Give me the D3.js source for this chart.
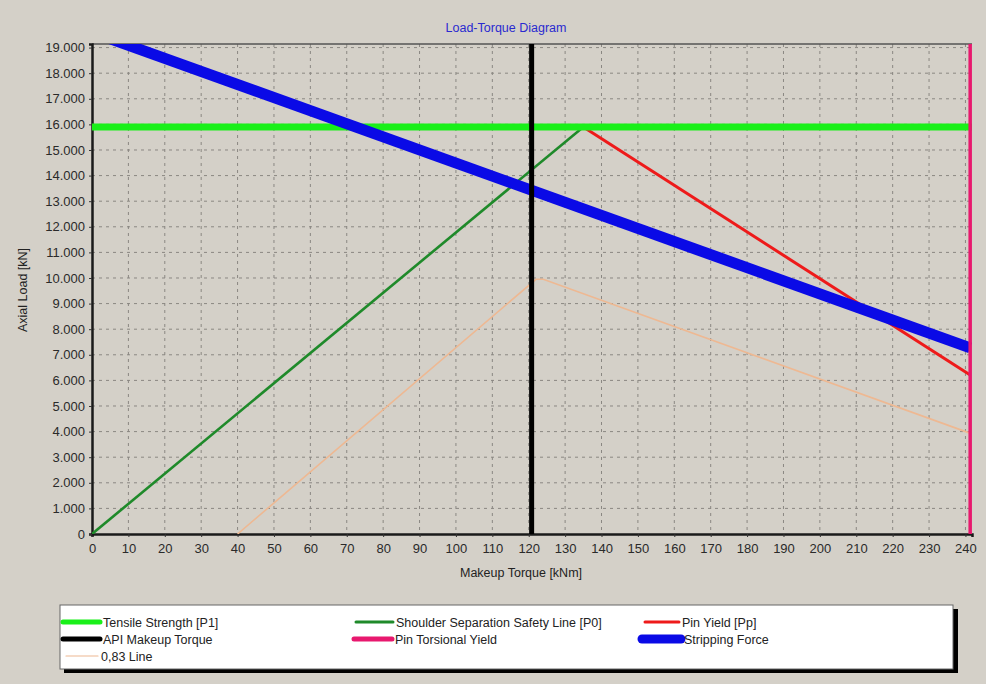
<!DOCTYPE html>
<html>
<head>
<meta charset="utf-8">
<script src="https://cdn.jsdelivr.net/npm/d3@7"></script>
<style>
  html, body { margin: 0; padding: 0; background: #d4d0c8; }
  svg { display: block; font-family: "Liberation Sans", Arial, sans-serif; }
</style>
</head>
<body>
<svg id="chart" width="986" height="684"></svg>
<script>
// Axis ranges and tick values
const xTicks = d3.range(0, 241, 10);
const yTicks = d3.range(0, 19001, 1000);
const xMax = 241.8;
const yMax = 19140;

// Series: [torque kNm, axial load kN]
const tensileStrength = [[0, 15900], [241.8, 15900]];
const shoulderSeparation = [[0, 0], [135, 15900]];
const pinYield = [[135, 15900], [241.3, 6210]];
const strippingForce = [[0, 19600], [241.3, 7270]];
const apiMakeupTorque = [[120.8, 0], [120.8, 19140]];
const pinTorsionalYield = [[241.3, 0], [241.3, 19140]];
const line083 = [[40, 0], [122, 9950], [124, 9950], [241, 3950]];

const seriesNames = [
  "Tensile Strength [P1]", "Shoulder Separation Safety Line [P0]", "Pin Yield [Pp]",
  "API Makeup Torque", "Pin Torsional Yield", "Stripping Force", "0,83 Line"
];

const svg = d3.select("#chart");
const margin = { left: 92, top: 44, right: 972, bottom: 534 };

const x = d3.scaleLinear().domain([0, xMax]).range([margin.left, margin.right]);
const y = d3.scaleLinear().domain([0, yMax]).range([margin.bottom, margin.top]);

const fmt = v => d3.format(",")(v).replace(/,/g, ".");

// Title
svg.append("text")
  .attr("x", 506).attr("y", 32)
  .attr("text-anchor", "middle")
  .attr("font-size", 12.5)
  .attr("fill", "#2a2ad0")
  .text("Load-Torque Diagram");

// Clip path for plot area
svg.append("defs").append("clipPath").attr("id", "plotclip")
  .append("rect")
  .attr("x", margin.left).attr("y", margin.top)
  .attr("width", margin.right - margin.left)
  .attr("height", margin.bottom - margin.top);

// Grid
const grid = svg.append("g");
grid.selectAll(".vg").data(xTicks.filter(d => d > 0)).enter().append("line")
  .attr("x1", d => x(d)).attr("x2", d => x(d))
  .attr("y1", margin.top).attr("y2", margin.bottom)
  .attr("stroke", "#8a8782").attr("stroke-width", 1)
  .attr("stroke-dasharray", "3,4");
grid.selectAll(".hg").data(yTicks.filter(d => d > 0)).enter().append("line")
  .attr("x1", margin.left).attr("x2", margin.right)
  .attr("y1", d => y(d)).attr("y2", d => y(d))
  .attr("stroke", "#8a8782").attr("stroke-width", 1)
  .attr("stroke-dasharray", "3,4");

// Top frame line
svg.append("line")
  .attr("x1", margin.left).attr("x2", margin.right)
  .attr("y1", margin.top).attr("y2", margin.top)
  .attr("stroke", "#555").attr("stroke-width", 1.5);

// Axes
const xAxis = svg.append("g")
  .attr("transform", `translate(0,${margin.bottom})`)
  .call(d3.axisBottom(x).tickValues(xTicks).tickSize(3).tickPadding(7));
const yAxis = svg.append("g")
  .attr("transform", `translate(${margin.left},0)`)
  .call(d3.axisLeft(y).tickValues(yTicks).tickFormat(fmt).tickSize(3).tickPadding(4));

[xAxis, yAxis].forEach(a => {
  a.select(".domain").attr("stroke", "#1a1a1a").attr("stroke-width", 2.5);
  a.selectAll(".tick line").attr("stroke", "#333");
  a.selectAll(".tick text").attr("fill", "#2a2a2a").attr("font-size", 13)
    .attr("font-family", "Liberation Sans, Arial, sans-serif");
});

// Axis titles
svg.append("text")
  .attr("x", 521).attr("y", 577)
  .attr("text-anchor", "middle")
  .attr("font-size", 12.5).attr("fill", "#222")
  .text("Makeup Torque [kNm]");
svg.append("text")
  .attr("transform", "translate(27,290) rotate(-90)")
  .attr("text-anchor", "middle")
  .attr("font-size", 12.5).attr("fill", "#222")
  .text("Axial Load [kN]");

// Series lines
const line = d3.line().x(d => x(d[0])).y(d => y(d[1]));
const plot = svg.append("g").attr("clip-path", "url(#plotclip)");

const series = [
  { data: line083, color: "#eeb892", width: 1.6, name: seriesNames[6] },
  { data: shoulderSeparation, color: "#1f8a2a", width: 2.6, name: seriesNames[1] },
  { data: pinYield, color: "#ee1a1a", width: 3, name: seriesNames[2] },
  { data: tensileStrength, color: "#19f019", width: 7, name: seriesNames[0] },
  { data: strippingForce, color: "#0a0ae6", width: 11, name: seriesNames[5] },
  { data: apiMakeupTorque, color: "#000000", width: 5, name: seriesNames[3] },
  { data: pinTorsionalYield, color: "#e8186e", width: 3.5, name: seriesNames[4] }
];

plot.selectAll("path.series").data(series).enter().append("path")
  .attr("class", "series")
  .attr("d", d => line(d.data))
  .attr("fill", "none")
  .attr("stroke", d => d.color)
  .attr("stroke-width", d => d.width)
  .attr("stroke-linejoin", "miter");

// Legend
const lg = svg.append("g");
lg.append("rect").attr("x", 64).attr("y", 609).attr("width", 894).attr("height", 64).attr("fill", "#000");
lg.append("rect").attr("x", 60).attr("y", 605).attr("width", 893).attr("height", 64)
  .attr("fill", "#ffffff").attr("stroke", "#666").attr("stroke-width", 1);

const legendItems = [
  { name: seriesNames[0], color: "#19f019", width: 5, x: 63, row: 0, len: 37 },
  { name: seriesNames[1], color: "#1f8a2a", width: 3, x: 356, row: 0, len: 37 },
  { name: seriesNames[2], color: "#ee1a1a", width: 3, x: 645, row: 0, len: 34 },
  { name: seriesNames[3], color: "#000000", width: 5, x: 63, row: 1, len: 37 },
  { name: seriesNames[4], color: "#e8186e", width: 5, x: 354, row: 1, len: 38 },
  { name: seriesNames[5], color: "#0a0ae6", width: 9, x: 642, row: 1, len: 39 },
  { name: seriesNames[6], color: "#eeb892", width: 1.2, x: 66, row: 2, len: 32 }
];
const rowY = [622, 639, 656];
const items = lg.selectAll("g.item").data(legendItems).enter().append("g").attr("class", "item");
items.append("line")
  .attr("x1", d => d.x).attr("x2", d => d.x + d.len)
  .attr("y1", d => rowY[d.row]).attr("y2", d => rowY[d.row])
  .attr("stroke", d => d.color).attr("stroke-width", d => d.width)
  .attr("stroke-linecap", "round");
items.append("text")
  .attr("x", d => d.x + d.len + 3).attr("y", d => rowY[d.row] + 4.5)
  .attr("font-size", 12.5).attr("fill", "#222")
  .text(d => d.name);
</script>
</body>
</html>
